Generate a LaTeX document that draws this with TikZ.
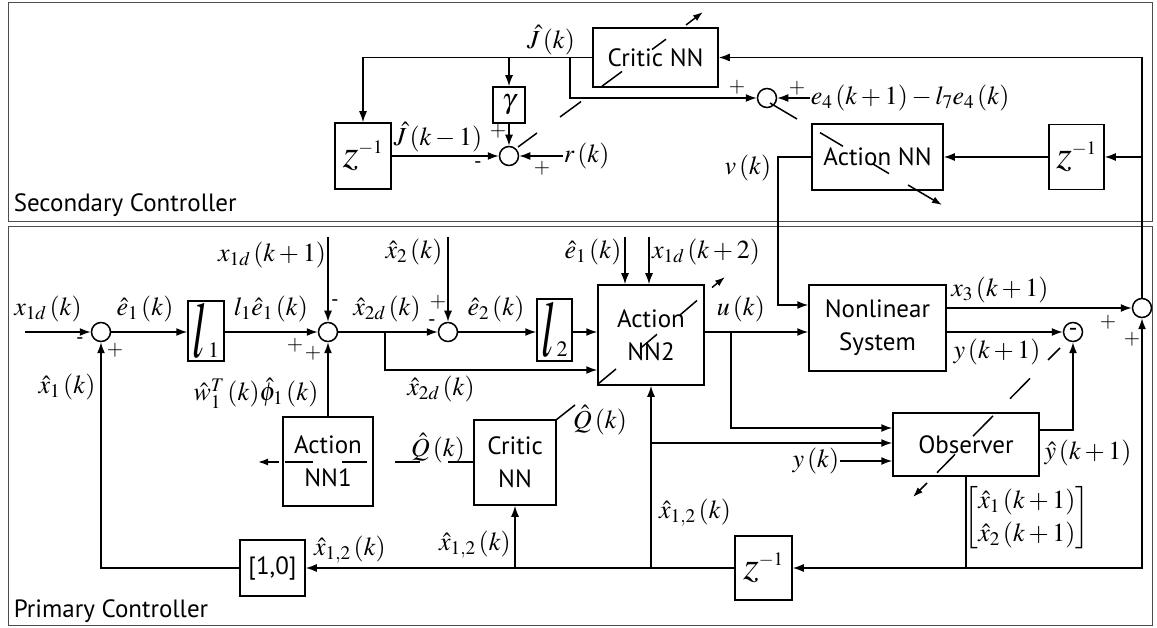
\documentclass[tikz,border=0pt]{standalone}
\usepackage{amsmath}
\usepackage{graphicx}
\usepackage{mathptmx}
\usepackage[no-math]{fontspec}
\setmainfont{PT Sans}
\usetikzlibrary{arrows.meta,calc}
\newcommand\msz{\fontsize{26}{30}\selectfont}
\newcommand\bsz{\fontsize{25}{33}\selectfont}
\newcommand\zinv{{\fontsize{40}{40}\selectfont$z^{\mbox{\fontsize{19}{19}\selectfont$-1$}}$}}
\newcommand\lgain[1]{{\fontsize{44}{44}\selectfont\scalebox{1}[1.8]{$l$}}\kern1pt{\fontsize{22}{22}\selectfont$#1$}}
\begin{document}
\begin{tikzpicture}[x=1pt,y=-1pt,
  line width=1.5pt,
  arr/.style={-{Latex[length=11pt,width=8pt]}},
  tarr/.style={-{Latex[length=10pt,width=7pt]}},
  box/.style={draw, inner sep=0pt, align=center, font=\bsz},
  sum/.style={circle, draw, minimum size=19pt, inner sep=0pt},
  lab/.style={inner sep=0pt, font=\msz},
  sgn/.style={inner sep=0pt, font=\fontsize{21}{21}\selectfont},
  frame/.style={draw=black!70, line width=1pt}]

\useasboundingbox (0,0) rectangle (1157,628);
\draw[frame] (8,3) rectangle (1152,222);
\draw[frame] (8,227) rectangle (1152,625);
\node[anchor=west, inner sep=0pt, font=\bsz] (sec) at (13,205) {Secondary Controller};
\node[anchor=west, inner sep=0pt, font=\bsz] (pri) at (13,611) {Primary Controller};

% ---------- secondary controller ----------
\node[box, minimum width=125pt, minimum height=59pt] (critic) at (655.5,57.5) {Critic NN};
\node[box, minimum width=56pt, minimum height=66pt] (zA) at (363,156) {\zinv};
\node[box, minimum width=32pt, minimum height=36pt] (gam) at (509,105) {\fontsize{28}{28}\selectfont$\gamma$};
\node[sum] (s4) at (509,156) {};
\node[sum] (s5) at (767,98) {};
\node[box, minimum width=131pt, minimum height=66pt] (actnn) at (877.5,157) {Action NN};
\node[box, minimum width=55pt, minimum height=65pt] (zB) at (1076.5,157) {\zinv};

\node[lab] (Jk) at (551,40) {$\hat J\,(k)$};
\node[lab] (Jk1) at (438,137) {$\hat J\,(k-1)$};
\node[lab, anchor=west] (rk) at (563,156) {$r\,(k)$};
\node[lab, anchor=west] (e4) at (810,98) {$e_4\,(k+1)-l_7e_4\,(k)$};
\node[lab] (vk) at (748,168) {$v\,(k)$};
\node[sgn] (sg1) at (498,131) {$+$};
\node[sgn] (sg2) at (478,165) {-};
\node[sgn] (sg3) at (542,168) {$+$};
\node[sgn] (sg4) at (737,87) {$+$};
\node[sgn] (sg5) at (797,88) {$+$};

\coordinate (jb) at (570,57.5);
\coordinate (vk1) at (778,157);
\coordinate (vk2) at (778,305);

% ---------- primary controller ----------
\node[sum] (s1) at (101,332) {};
\node[box, minimum width=36pt, minimum height=60pt] (l1) at (206,331) {\lgain{1}};
\node[sum] (s2) at (328,332) {};
\node[sum] (s3) at (448,332) {};
\node[box, minimum width=35pt, minimum height=62pt] (l2) at (554.5,330) {\lgain{2}};
\node[box, minimum width=106pt, minimum height=100pt] (an2) at (651,335) {Action\\NN2};
\node[box, minimum width=137pt, minimum height=86pt] (nls) at (877.5,328) {Nonlinear\\System};
\node[sum] (s6) at (1142,308) {};
\node[sum, font=\bsz] (s7) at (1073,332) {-};
\node[box, minimum width=146pt, minimum height=63pt] (obs) at (966,444.5) {Observer};
\node[box, minimum width=57pt, minimum height=64pt] (zC) at (763.5,568) {\zinv};
\node[box, minimum width=65pt, minimum height=56pt] (p10) at (272.5,568) {[1,0]};
\node[box, minimum width=82pt, minimum height=85pt] (cnn) at (515,462.5) {Critic\\NN};
\node[box, minimum width=90pt, minimum height=89pt] (an1) at (328,461.5) {Action\\NN1};

\node[lab] (x1dk) at (48,309) {$x_{1d}\,(k)$};
\node[lab] (x1k) at (67,387) {$\hat x_1\,(k)$};
\node[lab] (e1k) at (145,309) {$\hat e_1\,(k)$};
\node[lab] (l1e1) at (271,309) {$l_1\hat e_1\,(k)$};
\node[lab] (x1dk1) at (272,255) {$x_{1d}\,(k+1)$};
\node[lab] (wphi) at (256,393) {$\hat w_1^T\,(k)\hat\phi_1\,(k)$};
\node[lab] (x2dt) at (387,309) {$\hat x_{2d}\,(k)$};
\node[lab] (x2k) at (414,252) {$\hat x_2\,(k)$};
\node[lab] (e2k) at (496,309) {$\hat e_2\,(k)$};
\node[lab] (x2db) at (441,389) {$\hat x_{2d}\,(k)$};
\node[lab] (e1t) at (593,252) {$\hat e_1\,(k)$};
\node[lab] (x1dk2) at (706,252) {$x_{1d}\,(k+2)$};
\node[lab] (uk) at (741,309) {$u\,(k)$};
\node[lab] (x3) at (1000,290) {$x_3\,(k+1)$};
\node[lab] (yk1) at (997,352) {$y\,(k+1)$};
\node[lab] (yhat) at (1088,453) {$\hat y\,(k+1)$};
\node[lab] (xvec) at (1027,518) {\renewcommand\arraystretch{1.1}$\begin{bmatrix}\hat x_1\,(k+1)\\ \hat x_2\,(k+1)\end{bmatrix}$};
\node[lab] (yk) at (816,461) {$y\,(k)$};
\node[lab] (x12a) at (695,513) {$\hat x_{1,2}\,(k)$};
\node[lab] (qr) at (600,420) {$\hat Q\,(k)$};
\node[lab] (ql) at (438,448) {$\hat Q\,(k)$};
\node[lab] (x12b) at (475,545) {$\hat x_{1,2}\,(k)$};
\node[lab] (x12c) at (350,550) {$\hat x_{1,2}\,(k)$};

\node[sgn] (sg6) at (80,341) {-};
\node[sgn] (sg7) at (115,350) {$+$};
\node[sgn] (sg8) at (335,303) {-};
\node[sgn] (sg9) at (295,345) {$+$};
\node[sgn] (sg10) at (313,353) {$+$};
\node[sgn] (sg11) at (438,302) {$+$};
\node[sgn] (sg12) at (432,323) {-};
\node[sgn] (sg13) at (1108,322) {$+$};
\node[sgn] (sg14) at (1132,339) {$+$};

\coordinate (in1) at (25,332);
\coordinate (j1) at (385,332);
\coordinate (ju) at (731,332);
\coordinate (t1) at (625,237);
\coordinate (t2) at (649,237);
\coordinate (t3) at (448,237);
\coordinate (t4) at (328,237);

% ---------- connectors: secondary ----------
\draw[arr] (s6.north) |- (critic.east);
\draw[arr] (s6.north |- zB.east) -- (zB.east);
\draw[arr] (zB.west) -- (actnn.east);
\draw[arr] (critic.west) -| (zA.north);
\draw[arr] (gam.north |- critic.west) -- (gam.north);
\draw[arr] (gam.south) -- (s4.north);
\draw[arr] (zA.east) -- (s4.west);
\draw[arr] (rk.west) -- (s4.east);
\draw[arr] (jb) |- (s5.west);
\draw[arr] (e4.west) -- (s5.east);
\draw[arr] (actnn.west) -- (vk1) -- (vk2) -- (vk2 -| nls.west);

% ---------- connectors: primary ----------
\draw[arr] (in1) -- (s1.west);
\draw[arr] (s1.east) -- (s1.east -| l1.west);
\draw[arr] (l1.east |- s2.west) -- (s2.west);
\draw[arr] (s2.east) -- (s3.west);
\draw[arr] (j1) |- (an2.west |- 0,370);
\draw[arr] (s3.east) -- (s3.east -| l2.west);
\draw[arr] (l2.east |- s3.east) -- (an2.west |- s3.east);
\draw[arr] (t1) -- (t1 |- an2.north);
\draw[arr] (t2) -- (t2 |- an2.north);
\draw[arr] (t3) -- (s3.north);
\draw[arr] (t4) -- (s2.north);
\draw[arr] (an1.north) -- (s2.south);
\draw[arr] (an2.east |- s3.east) -- (nls.west |- s3.east);
\draw[arr] (ju) |- (obs.west |- 0,428);
\draw[arr] (nls.east |- s6.west) -- (s6.west);
\draw[arr] (nls.east |- s7.west) -- (s7.west);
\draw[arr] (obs.east |- 0,430) -| (s7.south);
\draw (obs.south) -- (obs.south |- zC.east);
\draw[arr] (obs.south |- zC.east) -| (s6.south);
\draw[arr] (obs.south |- zC.east) -- (zC.east);
\draw[arr] (zC.west) -- (p10.east);
\draw[arr] (cnn.south |- zC.west) -- (cnn.south);
\draw[arr] (an2.south |- zC.west) -- (an2.south);
\draw[arr] (an2.south |- 0,443) -- (obs.west |- 0,443);
\draw[arr] (yk.east) -- (obs.west |- yk.east);
\draw[arr] (p10.west) -| (s1.south);

% ---------- tuning (weight update) strokes ----------
\draw (560,117) -- (581,101.6);
\draw (602,86.2) -- (622,71.5);
\draw (652,49.5) -- (666,39.2);
\draw[tarr] (686,25) -- (703,12);
\draw (518,147) -- (537,133);
\draw (770,103) -- (797,119);
\draw (820,132.6) -- (843,146.3);
\draw (873,164) -- (889,173.6);
\draw[tarr] (908,185) -- (942,205);
\draw (598,384) -- (616,369);
\draw (640,348.6) -- (657,334.3);
\draw (680,315) -- (697,300.5);
\draw[tarr] (712,287.5) -- (725,277);
\draw (556,420) -- (575,405);
\draw (474,462) -- (448,462);
\draw (420,462) -- (395,462);
\draw (367,462) -- (342,462);
\draw (313,462) -- (285,462);
\draw[tarr] (279,462) -- (258,462);
\draw (1060,348) -- (1048,360);
\draw (1030,378.4) -- (1010,398.7);
\draw (993,415.9) -- (973,436.2);
\draw (955,454.4) -- (937,472.7);
\draw[tarr] (927,483) -- (913,497);
\end{tikzpicture}
\end{document}
